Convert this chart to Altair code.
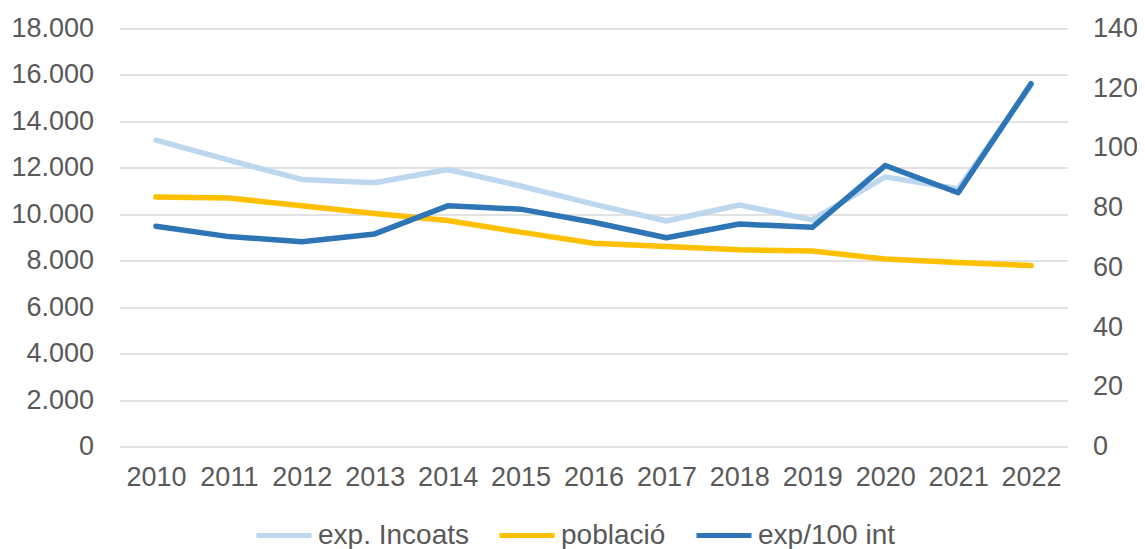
import altair as alt
import pandas as pd

years = ["2010", "2011", "2012", "2013", "2014", "2015", "2016",
         "2017", "2018", "2019", "2020", "2021", "2022"]
exp_incoats = [13190, 12330, 11500, 11360, 11930, 11220, 10440,
               9710, 10400, 9760, 11610, 11100, 15550]
poblacio = [10740, 10700, 10370, 10030, 9730, 9230, 8750,
            8610, 8470, 8420, 8070, 7920, 7790]
exp_100_int = [73.8, 70.3, 68.6, 71.2, 80.6, 79.5, 75.1,
               69.9, 74.5, 73.4, 94.1, 85.0, 121.5]

series_names = ["exp. Incoats", "població", "exp/100 int"]
series_colors = ["#BDD7EE", "#FFC000", "#2E75B6"]
left_ticks = list(range(0, 18001, 2000))
right_ticks = list(range(0, 141, 20))

rows = []
for name, vals in zip(series_names, [exp_incoats, poblacio, exp_100_int]):
    for y, v in zip(years, vals):
        rows.append({"year": y, "series": name, "value": v})
df = pd.DataFrame(rows)

FONT = "Liberation Sans"
GRAY = "#595959"
FS = 27

x_enc = alt.X("year:O", title=None, sort=years,
              scale=alt.Scale(paddingOuter=0.5),
              axis=alt.Axis(labelAngle=0, ticks=False, domain=False, grid=False,
                            labelFont=FONT, labelFontSize=FS, labelColor=GRAY,
                            labelPadding=18))

color_enc = alt.Color("series:N", sort=series_names,
                      scale=alt.Scale(domain=series_names, range=series_colors),
                      legend=alt.Legend(title=None, orient="none", direction="horizontal",
                                        legendX=134.5, legendY=477,
                                        symbolType="stroke", symbolStrokeWidth=5,
                                        symbolSize=3025, labelFont=FONT,
                                        labelFontSize=28, labelColor=GRAY,
                                        labelOffset=4, columnPadding=20, padding=0))

base = alt.Chart(df)

left = base.transform_filter(
    alt.FieldOneOfPredicate(field="series", oneOf=series_names[:2])
).mark_line(strokeWidth=5.5, strokeCap="round", strokeJoin="round").encode(
    x=x_enc,
    y=alt.Y("value:Q", title=None,
            scale=alt.Scale(domain=[0, 18000], nice=False),
            axis=alt.Axis(values=left_ticks, ticks=False, domain=False,
                          grid=True, gridColor="#D9D9D9", gridWidth=1.5,
                          labelFont=FONT, labelFontSize=FS, labelColor=GRAY,
                          labelPadding=26,
                          labelExpr="replace(format(datum.value, ',d'), ',', '.')")),
    color=color_enc,
)

right = base.transform_filter(
    alt.FieldEqualPredicate(field="series", equal=series_names[2])
).mark_line(strokeWidth=5.5, strokeCap="round", strokeJoin="round").encode(
    x=x_enc,
    y=alt.Y("value:Q", title=None,
            scale=alt.Scale(domain=[0, 140], nice=False),
            axis=alt.Axis(values=right_ticks, orient="right", ticks=False, domain=False,
                          grid=False, labelFont=FONT, labelFontSize=FS,
                          labelColor=GRAY, labelPadding=25)),
    color=color_enc,
)

chart = alt.layer(left, right).resolve_scale(y="independent").properties(
    width=948, height=418,
    background="white",
    autosize=alt.AutoSizeParams(type="none"),
    padding={"left": 111.5, "top": 20.5, "right": 69.5, "bottom": 102.5},
).configure_view(strokeWidth=0, stroke="transparent")

chart.save("out.html", embed_options={"renderer": "svg", "actions": False})
